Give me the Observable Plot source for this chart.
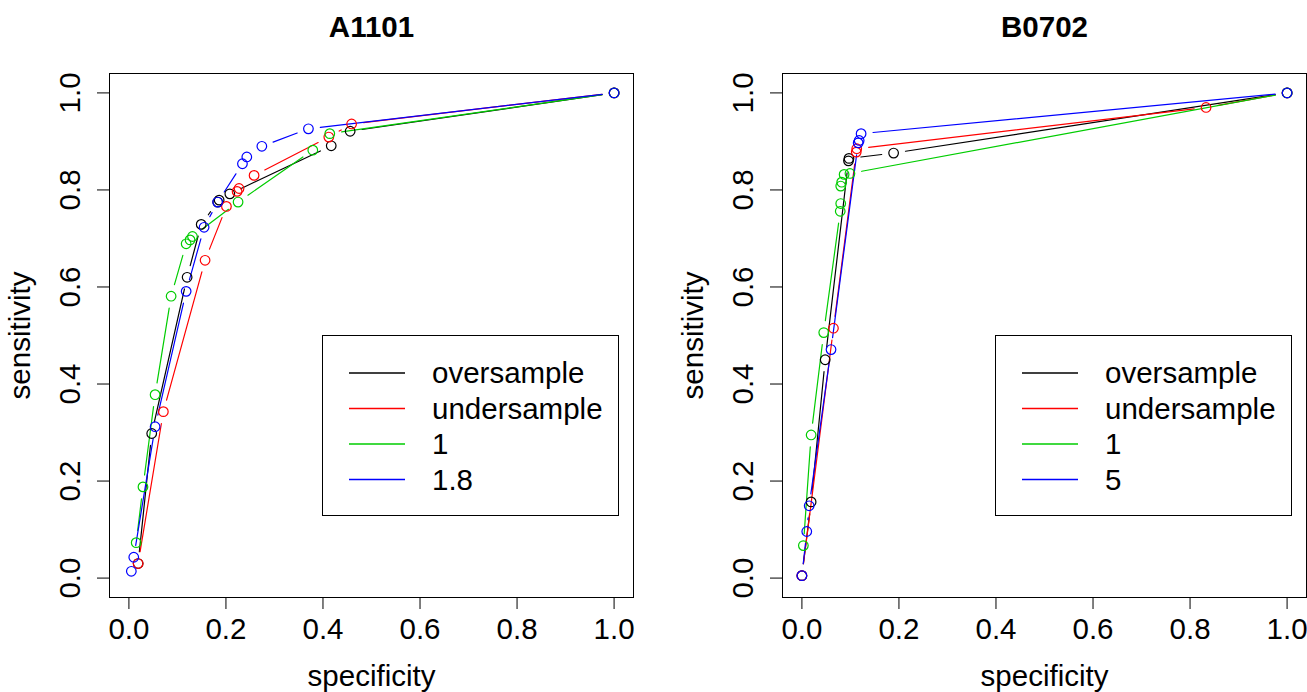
<!DOCTYPE html>
<html><head><meta charset="utf-8">
<script src="https://cdn.jsdelivr.net/npm/d3@7"></script>
<script src="https://cdn.jsdelivr.net/npm/@observablehq/plot@0.6"></script>
<style>
html,body{margin:0;padding:0;background:#fff;}
#wrap{position:relative;width:1307px;height:692px;overflow:hidden;font-family:"Liberation Sans",Arial,Helvetica,sans-serif;}
#wrap svg{position:absolute;top:0;}
</style></head>
<body><div id="wrap"></div>
<script>
// ---------- data ----------
const seriesColors = ["#000000", "#FF0000", "#00CD00", "#0000FF"];
const axisTicks = [0, 0.2, 0.4, 0.6, 0.8, 1.0];

// Panel A1101
const a1101Title = "A1101";
const a1101Labels = ["oversample", "undersample", "1", "1.8"];
const a1101OverX  = [0.019, 0.047, 0.120, 0.149, 0.183, 0.186, 0.208, 0.417, 0.456, 1.0];
const a1101OverY  = [0.030, 0.298, 0.620, 0.729, 0.775, 0.779, 0.792, 0.891, 0.921, 1.0];
const a1101UnderX = [0.019, 0.071, 0.157, 0.201, 0.223, 0.227, 0.258, 0.412, 0.459, 1.0];
const a1101UnderY = [0.030, 0.343, 0.655, 0.766, 0.797, 0.803, 0.830, 0.909, 0.936, 1.0];
const a1101W1X    = [0.015, 0.029, 0.054, 0.087, 0.118, 0.126, 0.131, 0.225, 0.379, 0.414, 1.0];
const a1101W1Y    = [0.073, 0.188, 0.378, 0.581, 0.689, 0.697, 0.704, 0.775, 0.882, 0.916, 1.0];
const a1101W2X    = [0.005, 0.010, 0.054, 0.118, 0.155, 0.183, 0.234, 0.243, 0.274, 0.370, 1.0];
const a1101W2Y    = [0.014, 0.043, 0.312, 0.591, 0.723, 0.775, 0.854, 0.868, 0.890, 0.926, 1.0];

// Panel B0702
const b0702Title = "B0702";
const b0702Labels = ["oversample", "undersample", "1", "5"];
const b0702OverX  = [0.000, 0.019, 0.048, 0.096, 0.097, 0.189, 1.0];
const b0702OverY  = [0.005, 0.157, 0.450, 0.860, 0.865, 0.876, 1.0];
const b0702UnderX = [0.000, 0.065, 0.112, 0.113, 0.833, 1.0];
const b0702UnderY = [0.005, 0.515, 0.878, 0.885, 0.970, 1.0];
const b0702W1X    = [0.003, 0.019, 0.045, 0.079, 0.080, 0.080, 0.082, 0.087, 0.099, 1.0];
const b0702W1Y    = [0.067, 0.295, 0.506, 0.756, 0.772, 0.808, 0.816, 0.832, 0.834, 1.0];
const b0702W2X    = [0.000, 0.010, 0.015, 0.060, 0.116, 0.118, 0.122, 1.0];
const b0702W2Y    = [0.005, 0.096, 0.149, 0.471, 0.897, 0.902, 0.916, 1.0];

// ---------- build ----------
const FONT = 29.5;
const GAP = 12;
const FAMILY = '"Liberation Sans",Arial,Helvetica,sans-serif';

function buildPanel(title, labels, xs, ys, left, width, marginRight) {
  const pts = [], segs = [];
  labels.forEach((lab, s) => {
    const X = xs[s], Y = ys[s];
    X.forEach((x, i) => {
      pts.push({series: lab, s, x, y: Y[i]});
      if (i > 0) segs.push({series: lab, s, x1: X[i-1], y1: Y[i-1], x2: x, y2: Y[i]});
    });
  });
  const col = d => seriesColors[d.s];
  const svg = Plot.plot({
    width, height: 692,
    marginLeft: 109, marginRight, marginTop: 73, marginBottom: 95,
    style: {fontFamily: FAMILY, fontSize: FONT + "px", color: "#000", background: "transparent"},
    x: {domain: [-0.04, 1.04]},
    y: {domain: [-0.04, 1.04]},
    marks: [
      Plot.frame({stroke: "#000", strokeWidth: 1}),
      Plot.axisX({ticks: axisTicks, tickSize: 12, tickPadding: 9, tickFormat: d3.format(".1f"), fontSize: FONT,
                  label: "specificity", labelAnchor: "center", labelOffset: 88, labelArrow: "none"}),
      Plot.axisY({ticks: axisTicks, tickSize: 12, tickPadding: 18, tickRotate: -90, tickFormat: d3.format(".1f"), fontSize: FONT,
                  label: "sensitivity", labelAnchor: "center", labelOffset: 100, labelArrow: "none"}),
      Plot.arrow(segs, {
        x1: "x1", y1: "y1", x2: "x2", y2: "y2", stroke: col, strokeWidth: 1.2,
        headLength: 0, insetStart: GAP, insetEnd: GAP,
        render(index, scales, values, dimensions, context, next) {
          const keep = index.filter(i => Math.hypot(values.x2[i] - values.x1[i], values.y2[i] - values.y1[i]) > 2 * GAP + 1);
          return next(keep, scales, values, dimensions, context);
        }
      }),
      Plot.dot(pts, {x: "x", y: "y", r: 4.8, stroke: col, strokeWidth: 1.2, fill: "none"}),
      Plot.text([title], {frameAnchor: "top", dy: -57, fontWeight: "bold", fontSize: FONT, fill: "#000"})
    ]
  });
  svg.style.left = left + "px";
  return svg;
}

function buildLegend(labels, left, top) {
  const w = 296, h = 180;
  const svg = d3.create("svg").attr("width", w + 2).attr("height", h + 2)
    .style("left", left + "px").style("top", top + "px");
  svg.append("rect").attr("x", 0.5).attr("y", 0.5).attr("width", w).attr("height", h)
    .attr("fill", "white").attr("stroke", "#000");
  labels.forEach((lab, i) => {
    const cy = 38 + i * 35.5;
    svg.append("line").attr("x1", 27).attr("x2", 83).attr("y1", cy).attr("y2", cy)
      .attr("stroke", seriesColors[i]).attr("stroke-width", 1.3);
    svg.append("text").attr("x", 110).attr("y", cy).attr("dy", "0.35em")
      .attr("font-size", FONT).attr("font-family", FAMILY).text(lab);
  });
  return svg.node();
}

const wrap = document.getElementById("wrap");
wrap.appendChild(buildPanel(a1101Title, a1101Labels,
  [a1101OverX, a1101UnderX, a1101W1X, a1101W2X], [a1101OverY, a1101UnderY, a1101W1Y, a1101W2Y], 0, 653, 20));
wrap.appendChild(buildPanel(b0702Title, b0702Labels,
  [b0702OverX, b0702UnderX, b0702W1X, b0702W2X], [b0702OverY, b0702UnderY, b0702W1Y, b0702W2Y], 673, 634, 1));
wrap.appendChild(buildLegend(a1101Labels, 322, 335));
wrap.appendChild(buildLegend(b0702Labels, 995, 335));
</script></body></html>
